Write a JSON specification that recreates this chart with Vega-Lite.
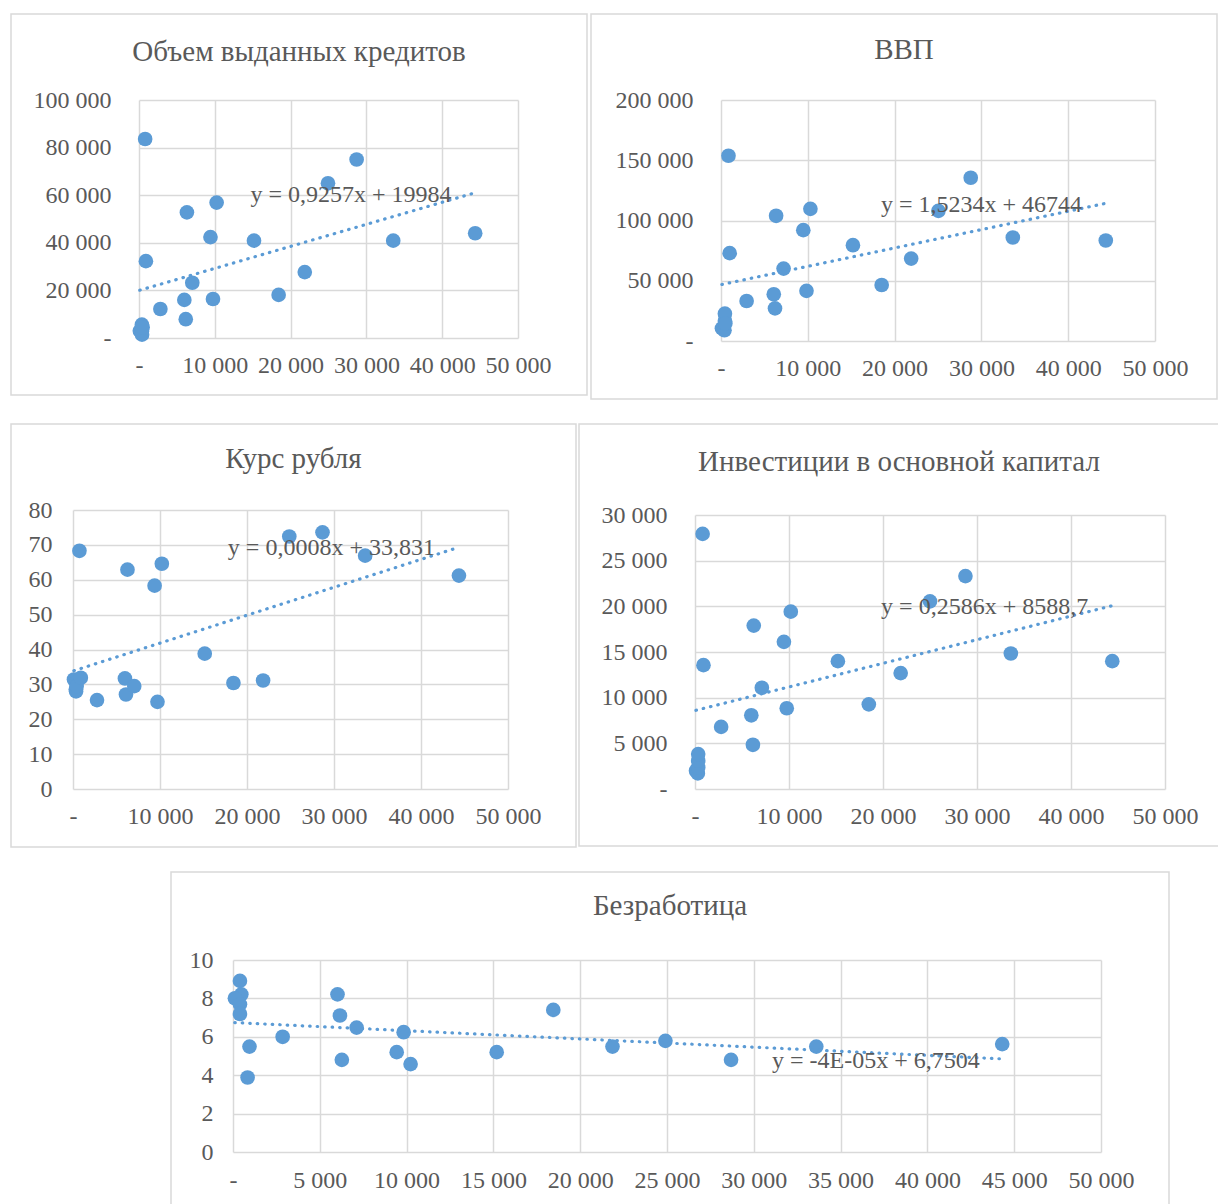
{
  "$schema": "https://vega.github.io/schema/vega-lite/v6.json",
  "padding": {"left": 10, "top": 13, "right": 0, "bottom": 0},
  "background": "white",
  "config": {
    "font": "Liberation Serif",
    "view": {"stroke": "#D9D9D9", "strokeWidth": 1.5},
    "axis": {"grid": true, "gridColor": "#D9D9D9", "gridWidth": 1.5, "domain": false, "ticks": false, "tickSize": 0, "labelFont": "Liberation Serif", "labelFontSize": 24, "labelColor": "#595959", "title": null, "labelOverlap": false, "labelFlush": false, "labelBound": false},
    "title": {"font": "Liberation Serif", "fontSize": 29, "fontWeight": "normal", "color": "#595959", "anchor": "middle", "frame": "group", "baseline": "middle"},
    "line": {"color": "#5B9BD5", "strokeWidth": 3.2, "strokeDash": [0.5, 7], "strokeCap": "round"},
    "circle": {"color": "#5B9BD5", "size": 215, "opacity": 1},
    "text": {"font": "Liberation Serif", "fontSize": 24, "color": "#595959", "align": "left", "baseline": "middle"}
  },
  "datasets": {
    "credit": [
      {"x": 110, "y": 3000}, {"x": 380, "y": 5600}, {"x": 380, "y": 2800}, {"x": 400, "y": 1400}, {"x": 480, "y": 4500},
      {"x": 810, "y": 83600}, {"x": 910, "y": 32300}, {"x": 2820, "y": 12200}, {"x": 5980, "y": 16000}, {"x": 6170, "y": 7900},
      {"x": 6320, "y": 52800}, {"x": 7030, "y": 23200}, {"x": 9430, "y": 42400}, {"x": 9760, "y": 16400}, {"x": 10240, "y": 56900},
      {"x": 15170, "y": 40900}, {"x": 18420, "y": 18100}, {"x": 21870, "y": 27700}, {"x": 24930, "y": 65000}, {"x": 28710, "y": 75000},
      {"x": 33540, "y": 40900}, {"x": 44350, "y": 44000}
    ],
    "credit_trend": [{"x": 100, "y": 20077}, {"x": 44300, "y": 60993}],
    "credit_eq": [{"x": 14700, "y": 60000, "label": "y = 0,9257x + 19984"}],
    "gdp": [
      {"x": 110, "y": 10500}, {"x": 400, "y": 8900}, {"x": 450, "y": 16600}, {"x": 450, "y": 22700}, {"x": 500, "y": 14500},
      {"x": 860, "y": 153700}, {"x": 1000, "y": 72900}, {"x": 2950, "y": 33200}, {"x": 6080, "y": 38800}, {"x": 6220, "y": 27100},
      {"x": 6350, "y": 103900}, {"x": 7210, "y": 60100}, {"x": 9480, "y": 92000}, {"x": 9850, "y": 41600}, {"x": 10300, "y": 109700},
      {"x": 15200, "y": 79500}, {"x": 18510, "y": 46500}, {"x": 21910, "y": 68400}, {"x": 25050, "y": 108000}, {"x": 28770, "y": 135500},
      {"x": 33620, "y": 85900}, {"x": 44330, "y": 83400}
    ],
    "gdp_trend": [{"x": 100, "y": 46896}, {"x": 44300, "y": 114231}],
    "gdp_eq": [{"x": 18430, "y": 112900, "label": "y = 1,5234x + 46744"}],
    "rate": [
      {"x": 110, "y": 31.4}, {"x": 330, "y": 28.6}, {"x": 400, "y": 30.5}, {"x": 350, "y": 28.0}, {"x": 420, "y": 29.5},
      {"x": 740, "y": 68.3}, {"x": 900, "y": 31.9}, {"x": 2760, "y": 25.5}, {"x": 5970, "y": 31.7}, {"x": 6090, "y": 27.1},
      {"x": 6260, "y": 62.9}, {"x": 7040, "y": 29.5}, {"x": 9380, "y": 58.3}, {"x": 9710, "y": 25.0}, {"x": 10210, "y": 64.6},
      {"x": 15140, "y": 38.8}, {"x": 18440, "y": 30.4}, {"x": 21850, "y": 31.1}, {"x": 24860, "y": 72.4}, {"x": 28680, "y": 73.6},
      {"x": 33580, "y": 66.9}, {"x": 44360, "y": 61.2}
    ],
    "rate_trend": [{"x": 100, "y": 33.91}, {"x": 44300, "y": 69.27}],
    "rate_eq": [{"x": 17800, "y": 69.1, "label": "y = 0,0008x + 33,831"}],
    "invest": [
      {"x": 110, "y": 2000}, {"x": 300, "y": 1710}, {"x": 340, "y": 2360}, {"x": 340, "y": 3090}, {"x": 340, "y": 3820},
      {"x": 810, "y": 27930}, {"x": 900, "y": 13560}, {"x": 2780, "y": 6800}, {"x": 5990, "y": 8070}, {"x": 6160, "y": 4840},
      {"x": 6250, "y": 17890}, {"x": 7110, "y": 11090}, {"x": 9460, "y": 16110}, {"x": 9760, "y": 8840}, {"x": 10190, "y": 19420},
      {"x": 15200, "y": 14000}, {"x": 18490, "y": 9270}, {"x": 21880, "y": 12690}, {"x": 25000, "y": 20550}, {"x": 28770, "y": 23310},
      {"x": 33600, "y": 14840}, {"x": 44390, "y": 14000}
    ],
    "invest_trend": [{"x": 100, "y": 8614.6}, {"x": 44300, "y": 20044.5}],
    "invest_eq": [{"x": 19800, "y": 19930, "label": "y = 0,2586x + 8588,7"}],
    "unemp": [
      {"x": 400, "y": 8.91}, {"x": 480, "y": 8.21}, {"x": 110, "y": 8.01}, {"x": 400, "y": 7.69}, {"x": 400, "y": 7.19},
      {"x": 950, "y": 5.49}, {"x": 840, "y": 3.88}, {"x": 2860, "y": 6.0}, {"x": 6020, "y": 8.21}, {"x": 6160, "y": 7.11},
      {"x": 6270, "y": 4.8}, {"x": 7120, "y": 6.48}, {"x": 9430, "y": 5.2}, {"x": 9830, "y": 6.24}, {"x": 10230, "y": 4.58},
      {"x": 15190, "y": 5.2}, {"x": 18450, "y": 7.4}, {"x": 21860, "y": 5.49}, {"x": 24910, "y": 5.79}, {"x": 28690, "y": 4.8},
      {"x": 33600, "y": 5.49}, {"x": 44310, "y": 5.62}
    ],
    "unemp_trend": [{"x": 100, "y": 6.74}, {"x": 44300, "y": 4.85}],
    "unemp_eq": [{"x": 31050, "y": 4.74, "label": "y = -4E-05x + 6,7504"}]
  },
  "vconcat": [
    {
      "hconcat": [
        {
          "width": 576, "height": 381,
          "title": {"text": "Объем выданных кредитов", "offset": -53},
          "layer": [
            {"data": {"name": "credit"}, "mark": "circle",
             "encoding": {
               "x": {"field": "x", "type": "quantitative", "scale": {"domain": [0, 50000], "range": [128, 507], "nice": false, "zero": false},
                     "axis": {"orient": "top", "offset": -324, "values": [0, 10000, 20000, 30000, 40000, 50000], "labelPadding": -15, "labelBaseline": "top", "labelExpr": "datum.value == 0 ? '-\u00a0\u00a0' : replace(format(datum.value, ','), ',', ' ')"}},
               "y": {"field": "y", "type": "quantitative", "scale": {"domain": [0, 100000], "range": [324, 86], "nice": false, "zero": false},
                     "axis": {"offset": -128, "values": [0, 20000, 40000, 60000, 80000, 100000], "labelPadding": 28, "labelExpr": "datum.value == 0 ? '-\u00a0\u00a0' : replace(format(datum.value, ','), ',', ' ')"}}
             }},
            {"data": {"name": "credit_trend"}, "mark": "line",
             "encoding": {"x": {"field": "x", "type": "quantitative"}, "y": {"field": "y", "type": "quantitative"}}},
            {"data": {"name": "credit_eq"}, "mark": "text",
             "encoding": {"x": {"field": "x", "type": "quantitative"}, "y": {"field": "y", "type": "quantitative"}, "text": {"field": "label"}}}
          ]
        },
        {
          "width": 626, "height": 385,
          "title": {"text": "ВВП", "offset": -51},
          "layer": [
            {"data": {"name": "gdp"}, "mark": "circle",
             "encoding": {
               "x": {"field": "x", "type": "quantitative", "scale": {"domain": [0, 50000], "range": [130, 564], "nice": false, "zero": false},
                     "axis": {"orient": "top", "offset": -327, "values": [0, 10000, 20000, 30000, 40000, 50000], "labelPadding": -15, "labelBaseline": "top", "labelExpr": "datum.value == 0 ? '-\u00a0\u00a0' : replace(format(datum.value, ','), ',', ' ')"}},
               "y": {"field": "y", "type": "quantitative", "scale": {"domain": [0, 200000], "range": [327, 86], "nice": false, "zero": false},
                     "axis": {"offset": -130, "values": [0, 50000, 100000, 150000, 200000], "labelPadding": 28, "labelExpr": "datum.value == 0 ? '-\u00a0\u00a0' : replace(format(datum.value, ','), ',', ' ')"}}
             }},
            {"data": {"name": "gdp_trend"}, "mark": "line",
             "encoding": {"x": {"field": "x", "type": "quantitative"}, "y": {"field": "y", "type": "quantitative"}}},
            {"data": {"name": "gdp_eq"}, "mark": "text",
             "encoding": {"x": {"field": "x", "type": "quantitative"}, "y": {"field": "y", "type": "quantitative"}, "text": {"field": "label"}}}
          ]
        }
      ],
      "spacing": 4, "bounds": "flush"
    },
    {
      "hconcat": [
        {
          "width": 565, "height": 423,
          "title": {"text": "Курс рубля", "offset": -50},
          "layer": [
            {"data": {"name": "rate"}, "mark": "circle",
             "encoding": {
               "x": {"field": "x", "type": "quantitative", "scale": {"domain": [0, 50000], "range": [62, 497], "nice": false, "zero": false},
                     "axis": {"orient": "top", "offset": -365, "values": [0, 10000, 20000, 30000, 40000, 50000], "labelPadding": -15, "labelBaseline": "top", "labelExpr": "datum.value == 0 ? '-\u00a0\u00a0' : replace(format(datum.value, ','), ',', ' ')"}},
               "y": {"field": "y", "type": "quantitative", "scale": {"domain": [0, 80], "range": [365, 86], "nice": false, "zero": false},
                     "axis": {"offset": -62, "values": [0, 10, 20, 30, 40, 50, 60, 70, 80], "labelPadding": 21}}
             }},
            {"data": {"name": "rate_trend"}, "mark": "line",
             "encoding": {"x": {"field": "x", "type": "quantitative"}, "y": {"field": "y", "type": "quantitative"}}},
            {"data": {"name": "rate_eq"}, "mark": "text",
             "encoding": {"x": {"field": "x", "type": "quantitative"}, "y": {"field": "y", "type": "quantitative"}, "text": {"field": "label"}}}
          ]
        },
        {
          "width": 640, "height": 422,
          "title": {"text": "Инвестиции в основной капитал", "offset": -53},
          "layer": [
            {"data": {"name": "invest"}, "mark": "circle",
             "encoding": {
               "x": {"field": "x", "type": "quantitative", "scale": {"domain": [0, 50000], "range": [116, 586], "nice": false, "zero": false},
                     "axis": {"orient": "top", "offset": -365, "values": [0, 10000, 20000, 30000, 40000, 50000], "labelPadding": -15, "labelBaseline": "top", "labelExpr": "datum.value == 0 ? '-\u00a0\u00a0' : replace(format(datum.value, ','), ',', ' ')"}},
               "y": {"field": "y", "type": "quantitative", "scale": {"domain": [0, 30000], "range": [365, 91], "nice": false, "zero": false},
                     "axis": {"offset": -116, "values": [0, 5000, 10000, 15000, 20000, 25000, 30000], "labelPadding": 28, "labelExpr": "datum.value == 0 ? '-\u00a0\u00a0' : replace(format(datum.value, ','), ',', ' ')"}}
             }},
            {"data": {"name": "invest_trend"}, "mark": "line",
             "encoding": {"x": {"field": "x", "type": "quantitative"}, "y": {"field": "y", "type": "quantitative"}}},
            {"data": {"name": "invest_eq"}, "mark": "text",
             "encoding": {"x": {"field": "x", "type": "quantitative"}, "y": {"field": "y", "type": "quantitative"}, "text": {"field": "label"}}}
          ]
        }
      ],
      "spacing": 3, "bounds": "flush"
    },
    {
      "hconcat": [
        {"width": 150, "height": 10, "data": {"values": []}, "mark": "point", "view": {"stroke": null}},
        {
          "width": 998, "height": 345,
          "title": {"text": "Безработица", "offset": -49},
          "layer": [
            {"data": {"name": "unemp"}, "mark": "circle",
             "encoding": {
               "x": {"field": "x", "type": "quantitative", "scale": {"domain": [0, 50000], "range": [62, 930], "nice": false, "zero": false},
                     "axis": {"orient": "top", "offset": -280, "values": [0, 5000, 10000, 15000, 20000, 25000, 30000, 35000, 40000, 45000, 50000], "labelPadding": -16, "labelBaseline": "top", "labelExpr": "datum.value == 0 ? '-\u00a0\u00a0' : replace(format(datum.value, ','), ',', ' ')"}},
               "y": {"field": "y", "type": "quantitative", "scale": {"domain": [0, 10], "range": [280, 88], "nice": false, "zero": false},
                     "axis": {"offset": -62, "values": [0, 2, 4, 6, 8, 10], "labelPadding": 20}}
             }},
            {"data": {"name": "unemp_trend"}, "mark": "line",
             "encoding": {"x": {"field": "x", "type": "quantitative"}, "y": {"field": "y", "type": "quantitative"}}},
            {"data": {"name": "unemp_eq"}, "mark": "text",
             "encoding": {"x": {"field": "x", "type": "quantitative"}, "y": {"field": "y", "type": "quantitative"}, "text": {"field": "label"}}}
          ]
        }
      ],
      "spacing": 10, "bounds": "flush"
    }
  ],
  "spacing": 23
}
